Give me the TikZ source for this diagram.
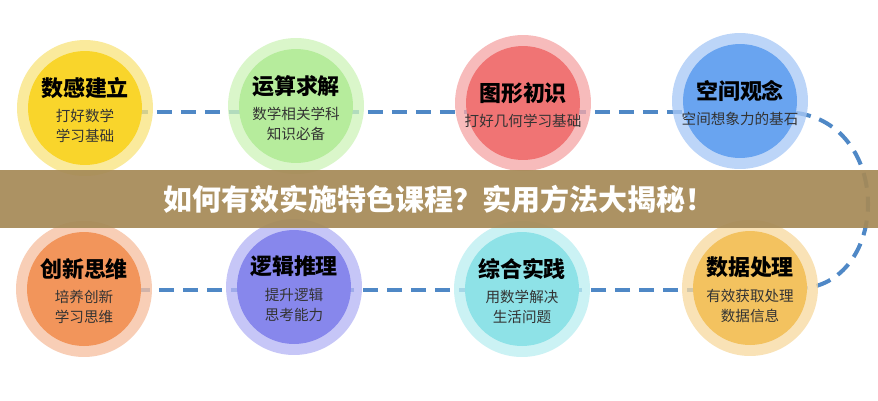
\documentclass[tikz,border=0pt]{standalone}
\usepackage{fontspec}
\setmainfont{Noto Sans CJK SC}
\usetikzlibrary{backgrounds}
\definecolor{link-blue}{HTML}{4F88C6}
\definecolor{banner-brown}{HTML}{A68A57}
\definecolor{sun-core}{HTML}{F9D52B}
\definecolor{sun-ring}{HTML}{F8E480}
\definecolor{leaf-core}{HTML}{B6EC9C}
\definecolor{leaf-ring}{HTML}{CFF3BB}
\definecolor{rose-core}{HTML}{F07474}
\definecolor{rose-ring}{HTML}{F5A8A8}
\definecolor{sky-core}{HTML}{69A4F0}
\definecolor{sky-ring}{HTML}{A9C9F6}
\definecolor{peach-core}{HTML}{F2955B}
\definecolor{peach-ring}{HTML}{F6C0A2}
\definecolor{iris-core}{HTML}{8787EC}
\definecolor{iris-ring}{HTML}{B6B6F5}
\definecolor{aqua-core}{HTML}{8EE2E7}
\definecolor{aqua-ring}{HTML}{BDEEF1}
\definecolor{gold-core}{HTML}{F3C25F}
\definecolor{gold-ring}{HTML}{F7DAA2}

\begin{document}
\begin{tikzpicture}[
    x=0.02cm, y=-0.02cm,
    link/.style={draw=link-blue, line width=2.3pt, dash pattern=on 0.3cm off 0.18cm},
    ring/.style={circle, minimum size=2.72cm, inner sep=0pt, fill opacity=0.78},
    core/.style={circle, minimum size=2.28cm, inner sep=0pt},
    caption/.style={align=center, text=black!80, font=\fontsize{8.3}{11.5}\selectfont}
]
\useasboundingbox (0,0) rectangle (878,400);

\coordinate (toprow) at (0,112);
\coordinate (lowrow) at (0,290);

\foreach \n/\x/\y/\c/\t/\s in {
    a/85/108/sun/数感建立/打好数学\\学习基础,
    b/296/106/leaf/运算求解/数学相关学科\\知识必备,
    c/523/103/rose/图形初识/打好几何学习基础,
    d/740/101/sky/空间观念/空间想象力的基石,
    e/84/289/peach/创新思维/培养创新\\学习思维,
    f/294/287/iris/逻辑推理/提升逻辑\\思考能力,
    g/522/289/aqua/综合实践/用数学解决\\生活问题,
    h/750/288/gold/数据处理/有效获取处理\\数据信息} {
    \node[ring, fill=\c-ring] (\n r) at (\x,\y) {};
    \node[core, fill=\c-core] (\n) at (\x,\y) {};
    \node[caption] (\n t) at (\x,\y+2) {{\fontsize{12.5}{15}\selectfont\bfseries\color{black}\t}\\[3pt]\s};
}

\begin{scope}[on background layer]
\draw[link] (a |- toprow) -- (b |- toprow);
\draw[link] (b |- toprow) -- (c |- toprow);
\draw[link] (c |- toprow) -- (d |- toprow);
\draw[link] (d.-12) .. controls (890,125) and (890,275) .. (h.east);
\draw[link] (h |- lowrow) -- (g |- lowrow);
\draw[link] (g |- lowrow) -- (f |- lowrow);
\draw[link] (f |- lowrow) -- (e |- lowrow);
\end{scope}

\node[fill=banner-brown, fill opacity=0.93, text opacity=1, text=white,
      minimum width=17.56cm, minimum height=1.16cm, inner sep=0pt,
      font=\fontsize{16.5}{18}\selectfont\bfseries] (banner) at (439,199)
      {如何有效实施特色课程？实用方法大揭秘！};
\end{tikzpicture}
\end{document}
